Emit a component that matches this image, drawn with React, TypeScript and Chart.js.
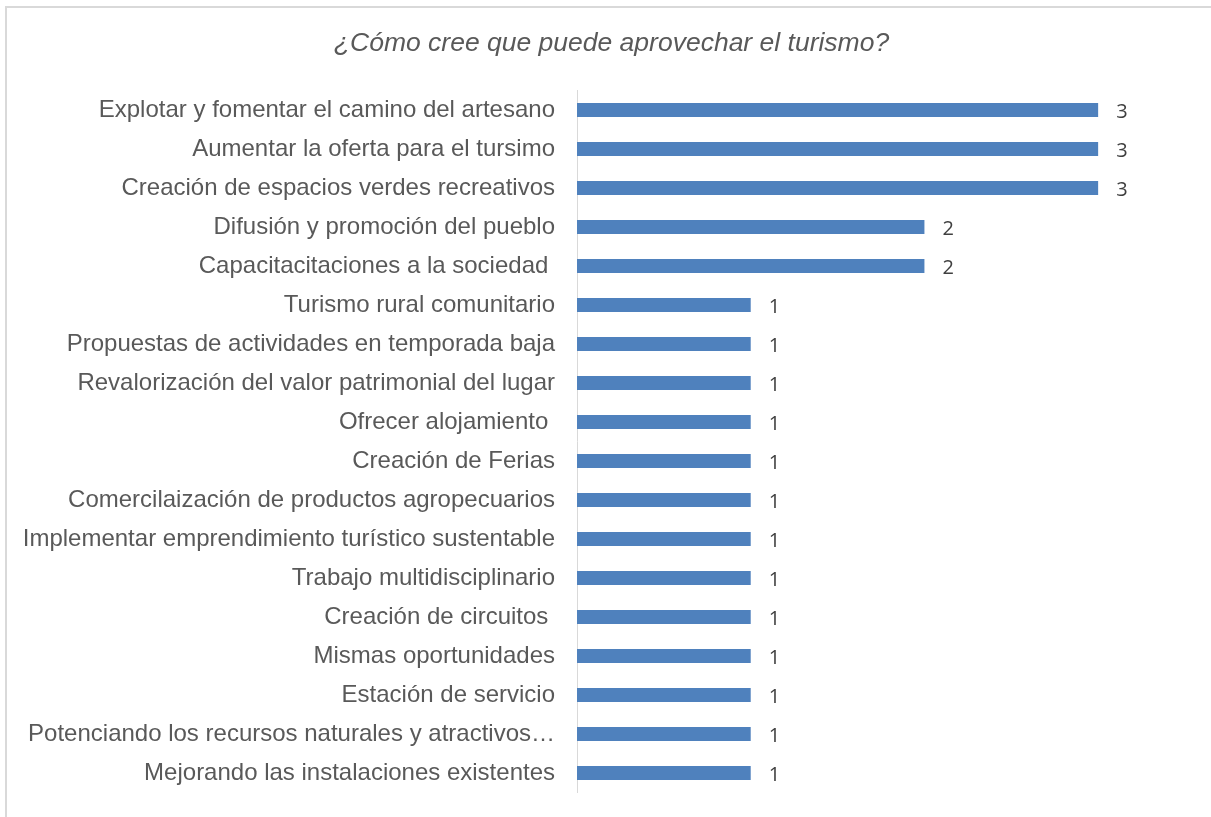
import React, { useEffect, useRef } from "react";
import { Chart, registerables } from "chart.js";

Chart.register(...registerables);

const titleText = "¿Cómo cree que puede aprovechar el turismo?";

const categories = [
  "Explotar y fomentar el camino del artesano",
  "Aumentar la oferta para el tursimo",
  "Creación de espacios verdes recreativos",
  "Difusión y promoción del pueblo",
  "Capacitacitaciones a la sociedad ",
  "Turismo rural comunitario",
  "Propuestas de actividades en temporada baja",
  "Revalorización del valor patrimonial del lugar",
  "Ofrecer alojamiento ",
  "Creación de Ferias",
  "Comercilaización de productos agropecuarios",
  "Implementar emprendimiento turístico sustentable",
  "Trabajo multidisciplinario",
  "Creación de circuitos ",
  "Mismas oportunidades",
  "Estación de servicio",
  "Potenciando los recursos naturales y atractivos…",
  "Mejorando las instalaciones existentes",
];

const values = [3, 3, 3, 2, 2, 1, 1, 1, 1, 1, 1, 1, 1, 1, 1, 1, 1, 1];

const dataLabelPlugin = {
  id: "dataLabels",
  afterDatasetsDraw(chart: any) {
    const ctx = chart.ctx;
    const meta = chart.getDatasetMeta(0);
    ctx.save();
    ctx.font = '20px "Open Sans", "Liberation Sans", sans-serif';
    ctx.fillStyle = "#404040";
    ctx.textAlign = "left";
    ctx.textBaseline = "middle";
    meta.data.forEach((bar: any, i: number) => {
      ctx.fillText(String(values[i]), bar.x + 18, bar.y + 2);
    });
    ctx.restore();
  },
};

const titlePlugin = {
  id: "centeredTitle",
  afterDraw(chart: any) {
    const ctx = chart.ctx;
    ctx.save();
    ctx.font = 'italic 26.5px "Liberation Sans", Arial, sans-serif';
    ctx.fillStyle = "#595959";
    ctx.textAlign = "center";
    ctx.textBaseline = "middle";
    ctx.fillText(titleText, 611.5, 44);
    ctx.restore();
  },
};

export default function App() {
  const ref = useRef<HTMLCanvasElement | null>(null);
  useEffect(() => {
    if (!ref.current) return;
    const chart = new Chart(ref.current, {
      type: "bar",
      data: {
        labels: categories,
        datasets: [
          {
            data: values,
            backgroundColor: "#4f81bd",
            barPercentage: 0.9,
            categoryPercentage: 0.4,
          },
        ],
      },
      plugins: [dataLabelPlugin, titlePlugin],
      options: {
        indexAxis: "y",
        animation: false,
        responsive: false,
        layout: { padding: { left: 0, right: 26, top: 90.5, bottom: 24.5 } },
        plugins: {
          legend: { display: false },
          tooltip: { enabled: false },
          title: { display: false },
        },
        scales: {
          x: {
            display: false,
            min: 0,
            max: 3.5,
          },
          y: {
            afterFit: (scale: any) => {
              scale.width = 577;
              scale.paddingTop = 0;
              scale.paddingBottom = 0;
            },
            grid: { drawOnChartArea: false, drawTicks: false },
            border: { display: true, color: "#d9d9d9", width: 1 },
            ticks: {
              color: "#595959",
              padding: 22,
              autoSkip: false,
              font: { family: '"Liberation Sans", Arial, sans-serif', size: 24 },
            },
          },
        },
      },
    } as any);
    return () => chart.destroy();
  }, []);

  return (
    <div style={{ position: "fixed", left: 0, top: 0, width: 1211, height: 817, background: "#fff", overflow: "hidden" }}>
      <div
        style={{
          position: "absolute",
          left: 5,
          top: 6,
          width: 1220,
          height: 830,
          border: "2px solid #d9d9d9",
          boxSizing: "border-box",
        }}
      />
      <canvas ref={ref} width={1211} height={817} style={{ position: "absolute", left: 0, top: 0 }} />
    </div>
  );
}
